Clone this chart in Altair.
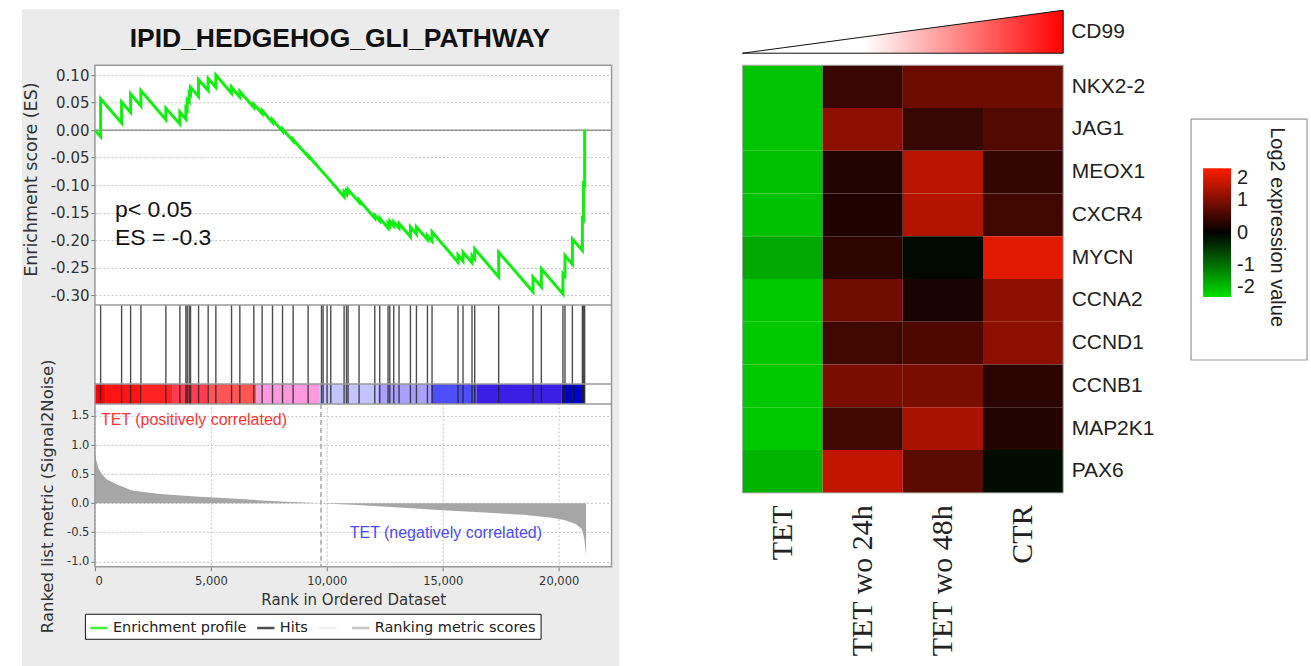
import altair as alt
import pandas as pd

# ---------------- data ----------------
title_text = "IPID_HEDGEHOG_GLI_PATHWAY"

# running enrichment score vertices (rank, ES)
es_rank = [0, 246, 246, 1151, 1151, 1539, 1539, 1983, 1983, 3060, 3060, 3664, 3664,
           3922, 3922, 3980, 3980, 4066, 4066, 4124, 4124, 4470, 4470, 4884, 4884,
           5216, 5216, 5892, 5892, 6250, 6250, 6853, 6853, 7211, 7211, 7659, 7659,
           8091, 8091, 8547, 8547, 9194, 9194, 9772, 9841, 10013, 10172,
           10746, 10746, 10849, 10849, 10918, 10918, 11392, 11392, 12069, 12069,
           12284, 12284, 12642, 12642, 12716, 12716, 12888, 12888, 13116, 13116,
           13608, 13608, 13866, 13866, 14341, 14341, 14539, 14539, 15659, 15659,
           15875, 15875, 16263, 16263, 16379, 16379, 17414, 17414, 18892, 18892,
           19254, 19254, 20185, 20185, 20272, 20272, 20591, 20591, 21022, 21022,
           21070, 21070, 21121, 21121, 21160]
es_value = [0.000, -0.012, 0.057, 0.013, 0.051, 0.032, 0.066, 0.044, 0.072, 0.019, 0.040, 0.011, 0.033,
            0.020, 0.040, 0.037, 0.055, 0.051, 0.068, 0.065, 0.078, 0.061, 0.092, 0.072, 0.094,
            0.078, 0.100, 0.067, 0.078, 0.060, 0.070, 0.041, 0.047, 0.030, 0.036, 0.014, 0.019,
            -0.002, 0.002, -0.020, -0.017, -0.048, -0.046, -0.074, -0.077, -0.085, -0.093,
            -0.121, -0.112, -0.117, -0.110, -0.113, -0.108, -0.131, -0.127, -0.160, -0.155,
            -0.165, -0.160, -0.178, -0.170, -0.174, -0.166, -0.174, -0.167, -0.178, -0.170,
            -0.194, -0.176, -0.189, -0.176, -0.199, -0.192, -0.202, -0.185, -0.240, -0.227,
            -0.238, -0.222, -0.241, -0.228, -0.234, -0.216, -0.267, -0.222, -0.294, -0.267,
            -0.285, -0.252, -0.298, -0.261, -0.265, -0.228, -0.244, -0.198, -0.219, -0.161,
            -0.163, -0.098, -0.100, -0.002, 0.000]

hit_rank = [246, 1151, 1539, 1983, 3060, 3664, 3922, 3980, 4066, 4124, 4470, 4884, 5216,
            5892, 6250, 6853, 7211, 7659, 8091, 8547, 9194, 9772, 9841, 10013, 10172,
            10746, 10849, 10918, 11392, 12069, 12284, 12642, 12716, 12888, 13116, 13608,
            13866, 14341, 14539, 15659, 15875, 16263, 16379, 17414, 18892, 19254, 20185,
            20272, 20591, 21022, 21070, 21121]

metric_rank = [0, 50, 150, 300, 500, 900, 1600, 2800, 4500, 6300, 8000, 9750, 11500,
               13300, 15000, 16800, 18500, 19700, 20250, 20750, 21000, 21100, 21180]
metric_value = [0.88, 0.75, 0.60, 0.50, 0.41, 0.33, 0.22, 0.16, 0.11, 0.07, 0.03, 0.0, -0.035,
                -0.08, -0.12, -0.16, -0.20, -0.25, -0.29, -0.36, -0.45, -0.60, -0.90]

band_start = [0, 470, 2010, 3360, 4870, 6970, 9700, 12200, 14510, 16450, 20115]
band_end = [470, 2010, 3360, 4870, 6970, 9700, 12200, 14510, 16450, 20115, 21120]
band_color = ["#ff0000", "#ff1414", "#ff2424", "#ff3c50", "#ff5555", "#ff99dd",
              "#c4c4ff", "#aba0ff", "#4e4eff", "#3d1ee6", "#0000c8"]

zero_cross = [9750]
stat_lines = ["p< 0.05", "ES = -0.3"]
legend_names = ["Enrichment profile", "Hits", " ", "Ranking metric scores"]
legend_colors = ["#11ee11", "#222222", "#ececec", "#b8b8b8"]

genes = ["NKX2-2", "JAG1", "MEOX1", "CXCR4", "MYCN", "CCNA2", "CCND1", "CCNB1", "MAP2K1", "PAX6"]
conditions = ["TET", "TET wo 24h", "TET wo 48h", "CTR"]
expr_tet = [-1.75, -1.75, -1.72, -1.72, -1.50, -1.79, -1.79, -1.79, -1.79, -1.61]
expr_24h = [0.44, 1.10, 0.27, 0.24, 0.35, 0.89, 0.50, 0.94, 0.52, 1.51]
expr_48h = [0.85, 0.42, 1.44, 1.40, -0.08, 0.20, 0.60, 0.94, 1.32, 0.71]
expr_ctr = [0.85, 0.64, 0.41, 0.50, 1.76, 1.10, 1.10, 0.33, 0.27, -0.11]

# ---------------- GSEA panel ----------------
W, H = 517, 502
ES_TOP, ES_BOT = 0, 240
HIT_BOT, BAR_BOT = 319, 339

grid_kw = dict(grid=True, gridDash=[2, 2], gridColor="#c4c4c4", domain=False,
               tickSize=4, tickColor="#777", labelColor="#333", titleColor="#333",
               labelFont="DejaVu Sans", titleFont="DejaVu Sans", titleFontWeight="normal")

x_scale = alt.Scale(domain=[0, 22280], nice=False, zero=False)
x_axis = alt.Axis(values=[0, 5000, 10000, 15000, 20000], format=",",
                  labelExpr="format(datum.value, ',')", title="Rank in Ordered Dataset",
                  labelFontSize=11.5, titleFontSize=15, labelPadding=5, titlePadding=5, **grid_kw)

es_scale = alt.Scale(domain=[-0.318, 0.118], range=[ES_BOT, ES_TOP], nice=False, zero=False)
es_axis = alt.Axis(orient="left", values=[-0.3, -0.25, -0.2, -0.15, -0.1, -0.05, 0.0, 0.05, 0.1],
                   labelExpr="(datum.value < -0.001 ? '-' : '') + format(abs(datum.value), '.2f')",
                   title="Enrichment score (ES)", labelFontSize=15,
                   titleFontSize=17.5, titlePadding=10, titleY=114, **grid_kw)

rank_scale = alt.Scale(domain=[-1.094, 1.706], range=[H, BAR_BOT], nice=False, zero=False)
rank_axis = alt.Axis(orient="left", values=[-1.0, -0.5, 0.0, 0.5, 1.0, 1.5],
                     labelExpr="(datum.value < -0.001 ? '-' : '') + format(abs(datum.value), '.1f')",
                     title="Ranked list metric (Signal2Noise)", labelFontSize=11.5,
                     titleFontSize=16.5, titlePadding=11, titleY=431, **grid_kw)

color_scale = alt.Scale(domain=legend_names, range=legend_colors)
gsea_legend = alt.Legend(orient="none", legendX=-10, legendY=594, direction="horizontal",
                         title=None, symbolType="stroke", symbolStrokeWidth=2.5, symbolSize=300,
                         labelFont="DejaVu Sans", labelFontSize=14.5, labelColor="#222",
                         labelOffset=4, strokeColor="#111", fillColor="white", padding=4,
                         columnPadding=5, labelLimit=0)

es_df = pd.DataFrame({"rank": es_rank, "es": es_value, "idx": list(range(len(es_rank))),
                      "series": legend_names[0]})
es_line = alt.Chart(es_df).mark_line(strokeWidth=3).encode(
    x=alt.X("rank:Q", scale=x_scale, axis=x_axis),
    y=alt.Y("es:Q", scale=es_scale, axis=es_axis),
    order="idx:Q",
    color=alt.Color("series:N", scale=color_scale, legend=gsea_legend),
)
zero_rule = alt.Chart(pd.DataFrame({"z": [0.0]})).mark_rule(color="#666", strokeWidth=1).encode(
    y=alt.Y("z:Q", scale=es_scale, axis=es_axis)
)
stat_df = pd.DataFrame({"t": stat_lines, "k": [0, 1]})
stat_text = alt.Chart(stat_df).transform_filter("datum.k == 0").mark_text(
    align="left", baseline="middle", font="Liberation Sans", fontSize=23, color="#111"
).encode(x=alt.value(20), y=alt.value(145), text="t:N")
stat_text2 = alt.Chart(stat_df).transform_filter("datum.k == 1").mark_text(
    align="left", baseline="middle", font="Liberation Sans", fontSize=23, color="#111"
).encode(x=alt.value(20), y=alt.value(173), text="t:N")
es_group = alt.layer(zero_rule, es_line, stat_text, stat_text2)

# hits + colour bar
mask = alt.Chart(pd.DataFrame({"a": [0]})).mark_rect(color="white").encode(
    x=alt.value(0), x2=alt.value(W), y=alt.value(ES_BOT), y2=alt.value(BAR_BOT))
band_df = pd.DataFrame({"start": band_start, "end": band_end, "col": band_color})
bands = alt.Chart(band_df).mark_rect().encode(
    x=alt.X("start:Q", scale=x_scale, axis=x_axis), x2="end:Q",
    y=alt.value(HIT_BOT), y2=alt.value(BAR_BOT),
    fill=alt.Fill("col:N", scale=None),
)
hits = alt.Chart(pd.DataFrame({"hit": hit_rank, "series": legend_names[1]})).mark_rule(
    strokeWidth=1.4, opacity=0.8).encode(
    x=alt.X("hit:Q", scale=x_scale, axis=x_axis),
    y=alt.value(ES_BOT), y2=alt.value(BAR_BOT),
    color=alt.Color("series:N", scale=color_scale, legend=gsea_legend),
)
seps = []
for p in [ES_BOT, HIT_BOT, BAR_BOT]:
    seps.append(alt.Chart(pd.DataFrame({"a": [0]})).mark_rule(color="#9a9a9a", strokeWidth=1.5).encode(
        x=alt.value(0), x2=alt.value(W), y=alt.value(p)))
hit_group = alt.layer(mask, bands, hits, *seps)

# ranked list metric
metric_df = pd.DataFrame({"rank": metric_rank, "metric": metric_value, "series": legend_names[3]})
metric_area = alt.Chart(metric_df).mark_area(opacity=1).encode(
    x=alt.X("rank:Q", scale=x_scale, axis=x_axis),
    y=alt.Y("metric:Q", scale=rank_scale, axis=rank_axis),
    y2=alt.Y2(datum=0),
    color=alt.Color("series:N", scale=color_scale, legend=gsea_legend),
    fill=alt.value("#a6a6a6"),
)
cross = alt.Chart(pd.DataFrame({"c": zero_cross})).mark_rule(
    color="#999", strokeDash=[5, 3], strokeWidth=1.3).encode(
    x=alt.X("c:Q", scale=x_scale, axis=x_axis), y=alt.value(BAR_BOT), y2=alt.value(H))
pos_lab = alt.Chart(pd.DataFrame({"t": ["TET (positively correlated)"]})).mark_text(
    align="left", baseline="middle", font="Liberation Sans", fontSize=16, color="#ff3333"
).encode(x=alt.value(6), y=alt.value(355), text="t:N")
neg_lab = alt.Chart(pd.DataFrame({"t": ["TET (negatively correlated)"]})).mark_text(
    align="left", baseline="middle", font="Liberation Sans", fontSize=16, color="#4b4bff"
).encode(x=alt.value(255), y=alt.value(468), text="t:N")
rank_group = alt.layer(metric_area, cross, pos_lab, neg_lab)

frame = alt.Chart(pd.DataFrame({"a": [0]})).mark_rect(filled=False, stroke="#9a9a9a", strokeWidth=1.5).encode(
    x=alt.value(0), x2=alt.value(W), y=alt.value(0), y2=alt.value(H))

gsea = alt.layer(es_group, hit_group, rank_group, frame).resolve_scale(y="independent").properties(
    width=W, height=H)

bg = alt.Chart(pd.DataFrame({"a": [0]})).mark_rect(color="#ebebeb").encode(
    x=alt.value(-73), x2=alt.value(525), y=alt.value(-11), y2=alt.value(650))
ttl = alt.Chart(pd.DataFrame({"t": [title_text]})).mark_text(
    font="Liberation Sans", fontSize=26.5, fontWeight="bold", color="#111", baseline="middle"
).encode(x=alt.value(245), y=alt.value(19), text="t:N")
title_panel = alt.layer(bg, ttl).properties(width=W, height=40)

left = alt.vconcat(title_panel, gsea, spacing=5, bounds="flush")

# ---------------- heatmap ----------------
HW, HH = 321, 428
rows = []
for c, vals in zip(conditions, [expr_tet, expr_24h, expr_48h, expr_ctr]):
    for g, v in zip(genes, vals):
        rows.append({"condition": c, "gene": g, "value": v})
heat_df = pd.DataFrame(rows)

heat = alt.Chart(heat_df).mark_rect().encode(
    x=alt.X("condition:N", sort=conditions,
            axis=alt.Axis(orient="bottom", labelAngle=270, labelFont="Liberation Serif",
                          labelFontSize=30, labelColor="#222", labelPadding=12, ticks=False,
                          domain=False, title=None, labelLimit=0)),
    y=alt.Y("gene:N", sort=genes,
            axis=alt.Axis(orient="right", labelFont="Liberation Sans", labelFontSize=21,
                          labelColor="#222", ticks=False, domain=False, labelPadding=8, title=None)),
    color=alt.Color("value:Q",
                    scale=alt.Scale(domain=[-2, 0, 2], range=["#00e000", "#000000", "#ff1c00"],
                                    interpolate="rgb"),
                    legend=alt.Legend(orient="none", legendX=449, legendY=136, direction="vertical",
                                      gradientLength=129, gradientThickness=28,
                                      values=[-2, -1, 0, 1, 2], labelOverlap=False,
                                      labelExpr="(datum.value < 0 ? '-' : '') + abs(datum.value)",
                                      labelFont="Liberation Sans",
                                      labelFontSize=20, labelColor="#222", labelOffset=6,
                                      title="Log2 expression value", titleOrient="right",
                                      titleAnchor="middle", titlePadding=12,
                                      titleFont="Liberation Sans", titleLimit=400,
                                      titleFontSize=20, titleFontWeight="normal",
                                      titleColor="#222", padding=12,
                                      gradientStrokeWidth=0)),
)
heat_frame = alt.Chart(pd.DataFrame({"a": [0]})).mark_rect(filled=False, stroke="#aaa", strokeWidth=1).encode(
    x=alt.value(0), x2=alt.value(HW), y=alt.value(0), y2=alt.value(HH))
legend_box = alt.Chart(pd.DataFrame({"a": [0]})).mark_rect(filled=False, stroke="#999", strokeWidth=1.2).encode(
    x=alt.value(449), x2=alt.value(565), y=alt.value(54), y2=alt.value(295))

tri_x = alt.Scale(domain=[0, 1], nice=False, zero=False)
tri_y = alt.Scale(domain=[0, 1], range=[-12, -55], nice=False, zero=False)
grad = alt.Gradient(gradient="linear",
                    stops=[alt.GradientStop(color="white", offset=0),
                           alt.GradientStop(color="white", offset=0.38),
                           alt.GradientStop(color="#ff0000", offset=1)],
                    x1=0, x2=1, y1=0, y2=0)
tri = alt.Chart(pd.DataFrame({"tx": [0, 1], "ty": [0, 1]})).mark_area(
    fill=grad, stroke="#111", strokeWidth=1).encode(
    x=alt.X("tx:Q", scale=tri_x, axis=None),
    y=alt.Y("ty:Q", scale=tri_y, axis=None),
    y2=alt.value(-12))
cd99 = alt.Chart(pd.DataFrame({"tx": [1], "ty": [0.5], "label": ["CD99"]})).mark_text(
    align="left", baseline="middle", dx=8, font="Liberation Sans", fontSize=21, color="#222").encode(
    x=alt.X("tx:Q", scale=tri_x, axis=None),
    y=alt.Y("ty:Q", scale=tri_y, axis=None),
    text="label:N")
tri_group = alt.layer(tri, cd99)

heat_layer = alt.layer(heat, heat_frame, legend_box, tri_group).resolve_scale(
    x="independent", y="independent").properties(width=HW, height=HH)

spacer = alt.Chart(pd.DataFrame({"a": [""]})).mark_text(opacity=0).encode(
    x=alt.value(0), y=alt.value(0), text="a:N").properties(width=HW, height=40)

right = alt.vconcat(spacer, heat_layer, spacing=5, bounds="flush")

chart = alt.hconcat(left, right, spacing=121).resolve_scale(color="independent").properties(
    padding={"left": 22, "top": 8, "right": 3, "bottom": 0}
).configure_view(fill="white", stroke=None)

chart.save("out.html", embed_options={"renderer": "svg", "actions": False})
